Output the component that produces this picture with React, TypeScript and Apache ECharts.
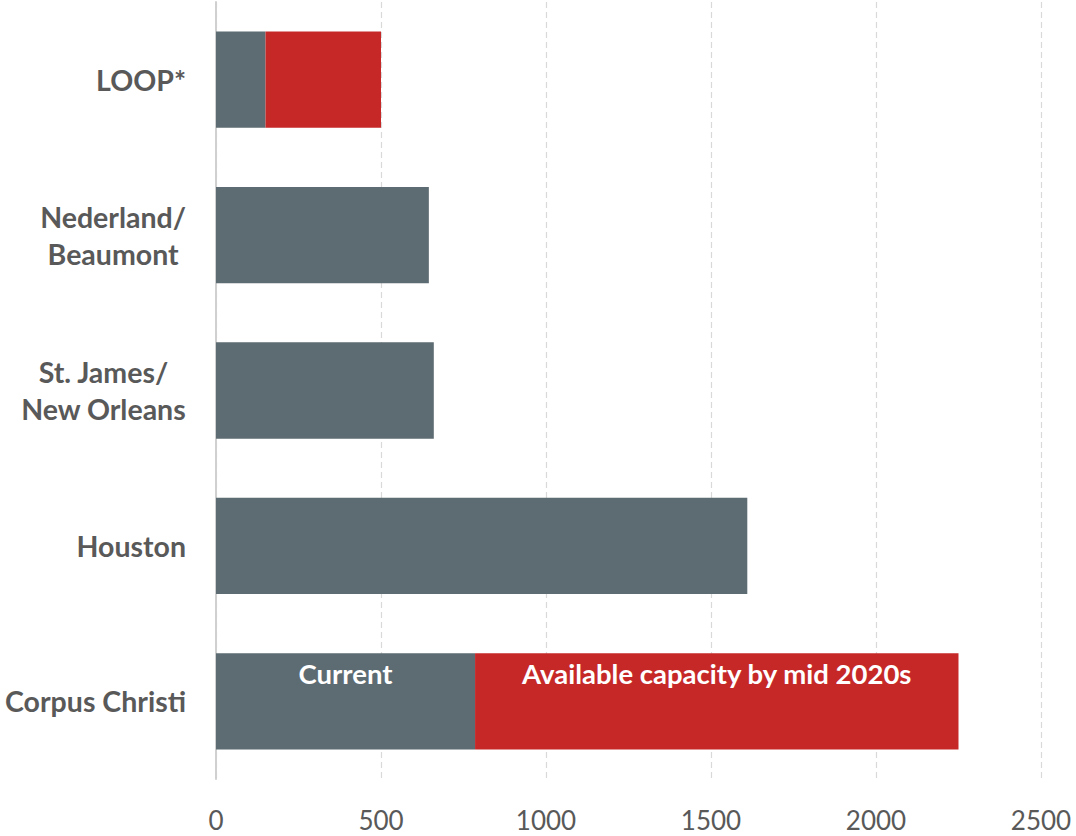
import React, { useEffect, useRef } from "react";
import * as echarts from "echarts";

const categories = ["LOOP*", "Nederland/\nBeaumont", "St. James/\nNew Orleans", "Houston", "Corpus Christi"];
const currentValues = [150, 645, 660, 1610, 785];
const availableValues = [350, 0, 0, 0, 1465];
const xTicks = [0, 500, 1000, 1500, 2000, 2500];
const labelledIndex = 4;

const FONT = "Lato, 'Open Sans', sans-serif";

function fmtCategory(v: string) {
  if (v.indexOf("\n") >= 0) {
    return v
      .split("\n")
      .map((l) => "{c|" + l + "}")
      .join("\n");
  }
  return v;
}

export default function App() {
  const ref = useRef<HTMLDivElement>(null);
  useEffect(() => {
    document.body.style.margin = "0";
    const chart = echarts.init(ref.current!, null, { renderer: "svg" });
    const labelCfg = {
      show: true,
      position: "insideTop",
      distance: 6,
      color: "#ffffff",
      fontFamily: FONT,
      fontWeight: "bold",
      fontSize: 27.5,
      formatter: (p: any) => p.seriesName,
    };
    chart.setOption({
      animation: false,
      grid: { left: 216, right: 35, top: 2, bottom: 57, containLabel: false },
      xAxis: {
        type: "value",
        min: xTicks[0],
        max: xTicks[xTicks.length - 1],
        interval: 500,
        axisLine: { show: false },
        axisTick: { show: false },
        axisLabel: {
          color: "#595959",
          fontSize: 26,
          fontFamily: FONT,
          margin: 28,
          formatter: (v: number) => String(v),
        },
        splitLine: { show: true, lineStyle: { color: "#d9d9d9", type: [6, 4], width: 1.2 } },
      },
      yAxis: {
        type: "category",
        data: categories,
        inverse: true,
        axisLine: { show: true, lineStyle: { color: "#d0d0d0", width: 2 } },
        axisTick: { show: false },
        axisLabel: {
          color: "#595959",
          fontSize: 28.5,
          fontWeight: "bold",
          fontFamily: FONT,
          margin: 30,
          lineHeight: 37,
          formatter: fmtCategory,
          rich: {
            c: { align: "center", fontSize: 28.5, fontWeight: "bold", fontFamily: FONT, color: "#595959", lineHeight: 37 },
          },
        },
      },
      series: [
        {
          name: "Current",
          type: "bar",
          stack: "total",
          barWidth: "62%",
          itemStyle: { color: "#5d6b72" },
          data: currentValues.map((v, i) =>
            i === labelledIndex ? { value: v, label: labelCfg } : v
          ),
        },
        {
          name: "Available capacity by mid 2020s",
          type: "bar",
          stack: "total",
          barWidth: "62%",
          itemStyle: { color: "#c62828" },
          data: availableValues.map((v, i) =>
            i === labelledIndex ? { value: v, label: labelCfg } : v
          ),
        },
      ],
    });
    return () => chart.dispose();
  }, []);
  return <div ref={ref} style={{ width: 1076, height: 836 }} />;
}
